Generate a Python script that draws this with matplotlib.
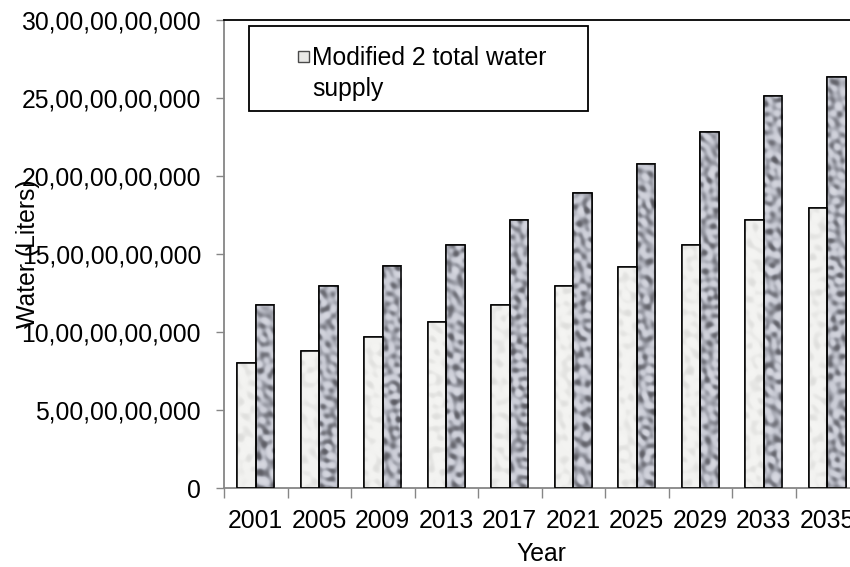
import numpy as np
import matplotlib.pyplot as plt
import matplotlib.colors as mcolors
from matplotlib.patches import Rectangle
from matplotlib.ticker import FuncFormatter, FixedLocator

plt.rcParams['font.family'] = ['Liberation Sans', 'DejaVu Sans']

years = ["2001", "2005", "2009", "2013", "2017", "2021", "2025", "2029", "2033", "2035"]
# litres of water per year
modified_2_supply = [8.03e9, 8.80e9, 9.70e9, 10.66e9, 11.73e9,
                     12.93e9, 14.19e9, 15.60e9, 17.16e9, 17.97e9]
total_supply = [11.73e9, 12.93e9, 14.21e9, 15.60e9, 17.18e9,
                18.91e9, 20.77e9, 22.84e9, 25.13e9, 26.33e9]
y_ticks = [0, 5e9, 10e9, 15e9, 20e9, 25e9, 30e9]
legend_label = "Modified 2 total water\nsupply"


def indian_commas(v, pos=None):
    s = str(int(round(v)))
    if len(s) <= 3:
        return s
    head, tail = s[:-3], s[-3:]
    groups = []
    while len(head) > 2:
        groups.insert(0, head[-2:])
        head = head[:-2]
    if head:
        groups.insert(0, head)
    return ",".join(groups + [tail])


def mottled(h, w, lo, hi, n, shift):
    # granite-like fill built from many crossing sine waves
    yy, xx = np.mgrid[0:h, 0:w].astype(float)
    field = np.zeros((h, w))
    for k in range(n):
        ang = (k + shift) * 2.39996
        f = lo + (hi - lo) * (((k + shift) * 0.618034) % 1.0)
        field += np.sin(f * (np.cos(ang) * xx + np.sin(ang) * yy) + (k + shift) * 1.7)
    field /= np.abs(field).max()
    return 0.5 + 0.5 * np.tanh(2.2 * field)


fig = plt.figure(figsize=(8.5, 5.67), dpi=100)
ax = fig.add_axes([224 / 850, 79 / 567, 635 / 850, 468 / 567])

x = np.arange(len(years))
w = 0.29
light_bars = ax.bar(x - w / 2, modified_2_supply, w, color="#ededeb",
                    edgecolor="black", linewidth=1.1, zorder=2)
dark_bars = ax.bar(x + w / 2, total_supply, w, color="#a4a6ad",
                   edgecolor="black", linewidth=1.1, zorder=2)

# texture fill clipped to each bar
light_cmap = mcolors.LinearSegmentedColormap.from_list("lt", ["#dcdcda", "#f2f2f0", "#f5f5f3"])
dark_cmap = mcolors.LinearSegmentedColormap.from_list("dk", ["#58585f", "#989aa4", "#c6c8d2", "#dadbe3"])
tex_light = mottled(470, 640, 0.25, 0.7, 40, 3)
tex_dark = mottled(470, 640, 0.28, 0.85, 70, 11)
ext = (-0.5, len(years) - 0.5, 0, 30e9)
for bars, tex, cmap in ((light_bars, tex_light, light_cmap), (dark_bars, tex_dark, dark_cmap)):
    for b in bars:
        im = ax.imshow(tex, cmap=cmap, extent=ext, aspect="auto",
                       origin="lower", zorder=2.5, interpolation="bilinear")
        im.set_clip_path(b)
        ax.add_patch(Rectangle(b.get_xy(), b.get_width(), b.get_height(),
                               fill=False, edgecolor="black", linewidth=1.1, zorder=3))
ax.set_xlim(-0.5, len(years) - 0.5)
ax.set_ylim(0, 30e9)

# axes styling
for side in ("left", "bottom"):
    ax.spines[side].set_color("#868686")
    ax.spines[side].set_linewidth(1.3)
ax.spines["top"].set_color("black")
ax.spines["top"].set_linewidth(1.3)
ax.spines["right"].set_visible(False)

ax.yaxis.set_major_locator(FixedLocator(y_ticks))
ax.yaxis.set_major_formatter(FuncFormatter(indian_commas))
ax.tick_params(axis="y", direction="out", length=5.5, width=1, color="#868686",
               labelsize=17.8, pad=11)

ax.set_xticks(np.arange(-0.5, len(years), 1.0))
ax.set_xticklabels([])
ax.set_xticks(x, minor=True)
ax.set_xticklabels(years, minor=True)
ax.tick_params(axis="x", which="major", direction="out", length=7, width=1, color="#868686")
ax.tick_params(axis="x", which="minor", length=0, labelsize=17.8, pad=15)

ax.set_xlabel("Year", fontsize=17.8)
ax.xaxis.set_label_coords(0.5, -0.115)
ax.set_ylabel("Water (Liters)", fontsize=17.8)
ax.yaxis.set_label_coords(-0.29, 0.5)

# legend: framed box, small square key, two-line label
fig.patches.append(Rectangle((249 / 850, 1 - 111 / 567), 339 / 850, 85 / 567,
                             transform=fig.transFigure, fill=False,
                             edgecolor="black", linewidth=1.3, zorder=5))
fig.patches.append(Rectangle((298 / 850, 1 - 62 / 567), 11 / 850, 11 / 567,
                             transform=fig.transFigure, facecolor="#e8e8e6",
                             edgecolor="#4a4a4a", linewidth=1.0, zorder=5))
fig.text(312 / 850, 1 - 46 / 567, legend_label, fontsize=17.8, ha="left", va="top",
         linespacing=1.38)

fig.savefig("out.png", dpi=100)
